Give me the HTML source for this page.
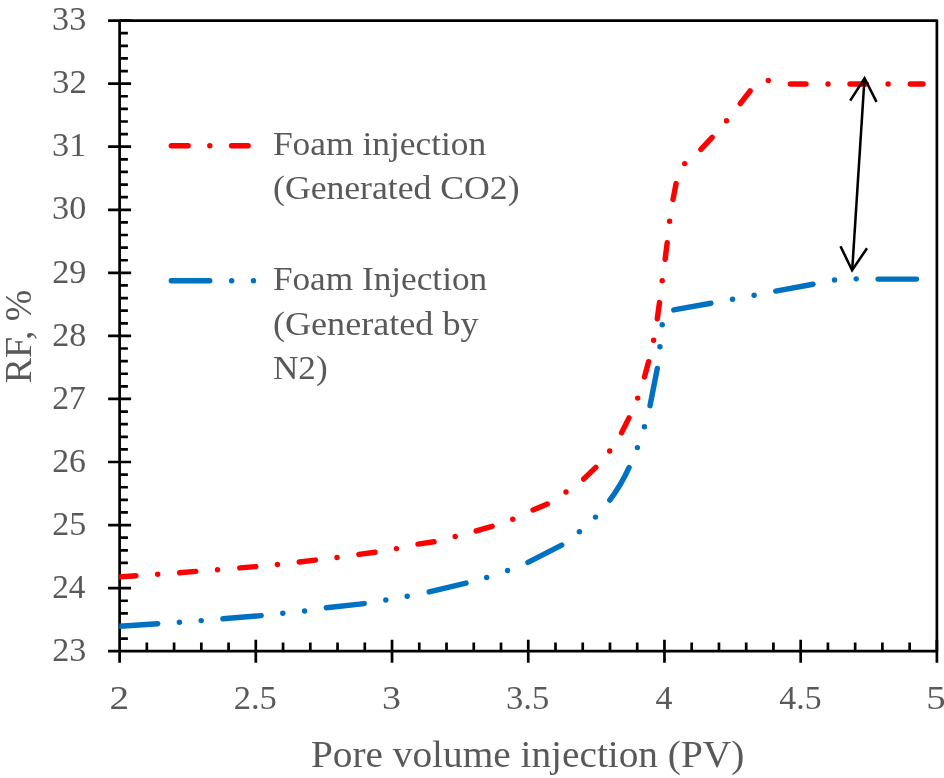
<!DOCTYPE html>
<html><head><meta charset="utf-8"><style>
html,body{margin:0;padding:0;background:#fff;}
svg{display:block;will-change:transform;}
text{font-family:"Liberation Serif",serif;fill:#595959;}
</style></head><body>
<svg width="944" height="778" viewBox="0 0 944 778">
<rect width="944" height="778" fill="#fff"/>
<g><text transform="translate(52.19 660.9) scale(0.9837 1)" font-size="34.6">23</text><text transform="translate(52.22 597.84) scale(0.9604 1)" font-size="34.6">24</text><text transform="translate(52.19 534.78) scale(0.9837 1)" font-size="34.6">25</text><text transform="translate(52.2 471.72) scale(0.9748 1)" font-size="34.6">26</text><text transform="translate(52.21 408.66) scale(0.9719 1)" font-size="34.6">27</text><text transform="translate(52.19 345.6) scale(0.9837 1)" font-size="34.6">28</text><text transform="translate(52.18 282.54) scale(0.9867 1)" font-size="34.6">29</text><text transform="translate(52.09 219.48) scale(0.9867 1)" font-size="34.6">30</text><text transform="translate(52.08 156.42) scale(0.9886 1)" font-size="34.6">31</text><text transform="translate(52.06 93.36) scale(1.0050 1)" font-size="34.6">32</text><text transform="translate(52.09 30.3) scale(0.9867 1)" font-size="34.6">33</text><text transform="translate(109.51 709.3) scale(1.1344 1)" font-size="34.6">2</text><text transform="translate(233.63 709.3) scale(0.9983 1)" font-size="34.6">2.5</text><text transform="translate(381.89 709.3) scale(1.0963 1)" font-size="34.6">3</text><text transform="translate(505.96 709.3) scale(1.0007 1)" font-size="34.6">3.5</text><text transform="translate(655.45 709.3) scale(0.9782 1)" font-size="34.6">4</text><text transform="translate(779.37 709.3) scale(0.9774 1)" font-size="34.6">4.5</text><text transform="translate(926.27 709.3) scale(1.1266 1)" font-size="34.6">5</text></g>
<g><text transform="translate(272.92 154.8) scale(1.0231 1)" font-size="34.6">Foam injection</text><text transform="translate(273.01 199.2) scale(1.0311 1)" font-size="34.6">(Generated CO2)</text><text transform="translate(272.92 290.2) scale(1.0184 1)" font-size="34.6">Foam Injection</text><text transform="translate(273 334.6) scale(1.0435 1)" font-size="34.6">(Generated by</text><text transform="translate(272.92 379) scale(1.0171 1)" font-size="34.6">N2)</text><text transform="translate(310.91 766.9) scale(1.0292 1)" font-size="38.2">Pore volume injection (PV)</text><text transform="translate(31.4 383.15) rotate(-90) scale(0.9880 1)" font-size="38.2">RF, %</text></g>
<clipPath id="pa"><rect x="119.2" y="10.6" width="817.69" height="640.6"/></clipPath>
<path d="M119.6 20.6H936.89V651.2" stroke="#000" stroke-width="2.7" fill="none" stroke-linejoin="round"/><path d="M119.6 19.25V651.2M119.6 651.2H936.89M108.1 651.2H131.1M108.1 588.14H131.1M108.1 525.08H131.1M108.1 462.02H131.1M108.1 398.96H131.1M108.1 335.9H131.1M108.1 272.84H131.1M108.1 209.78H131.1M108.1 146.72H131.1M108.1 83.66H131.1M108.1 20.6H131.1M119.6 638.59H127.9M119.6 625.98H127.9M119.6 613.36H127.9M119.6 600.75H127.9M119.6 575.53H127.9M119.6 562.92H127.9M119.6 550.3H127.9M119.6 537.69H127.9M119.6 512.47H127.9M119.6 499.86H127.9M119.6 487.24H127.9M119.6 474.63H127.9M119.6 449.41H127.9M119.6 436.8H127.9M119.6 424.18H127.9M119.6 411.57H127.9M119.6 386.35H127.9M119.6 373.74H127.9M119.6 361.12H127.9M119.6 348.51H127.9M119.6 323.29H127.9M119.6 310.68H127.9M119.6 298.06H127.9M119.6 285.45H127.9M119.6 260.23H127.9M119.6 247.62H127.9M119.6 235H127.9M119.6 222.39H127.9M119.6 197.17H127.9M119.6 184.56H127.9M119.6 171.94H127.9M119.6 159.33H127.9M119.6 134.11H127.9M119.6 121.5H127.9M119.6 108.88H127.9M119.6 96.27H127.9M119.6 71.05H127.9M119.6 58.44H127.9M119.6 45.82H127.9M119.6 33.21H127.9M119.6 639.7V662.7M255.81 639.7V662.7M392.03 639.7V662.7M528.25 639.7V662.7M664.46 639.7V662.7M800.68 639.7V662.7M936.89 639.7V662.7M146.84 651.2V642.5M174.09 651.2V642.5M201.33 651.2V642.5M228.57 651.2V642.5M283.06 651.2V642.5M310.3 651.2V642.5M337.54 651.2V642.5M364.79 651.2V642.5M419.27 651.2V642.5M446.52 651.2V642.5M473.76 651.2V642.5M501 651.2V642.5M555.49 651.2V642.5M582.73 651.2V642.5M609.97 651.2V642.5M637.22 651.2V642.5M691.7 651.2V642.5M718.95 651.2V642.5M746.19 651.2V642.5M773.43 651.2V642.5M827.92 651.2V642.5M855.16 651.2V642.5M882.4 651.2V642.5M909.65 651.2V642.5" stroke="#000" stroke-width="2.7" fill="none" stroke-linecap="butt"/>
<g clip-path="url(#pa)"><path d="M119.6 576.9L136 575.7M157.7 574.2L157.71 574.2M179.6 572.7L195.9 571.4M217.5 569.8L217.51 569.8M239.7 567.9L255.8 566.6M277.4 564.4L277.41 564.4M299.2 562L315.4 560.1M337 557.4L337.01 557.4M358.9 554.4L375 552.2M396.4 548.6L396.41 548.6M418 544.1L434.1 541.8M455.2 536.5L455.21 536.5M476.2 530.9L492.1 526.3M512.8 519.3L512.81 519.3M533.1 509.9L547.3 504M566 491.9L566.01 491.9M583.7 479L595.8 467.4M609.7 450.9L609.71 450.9M621.6 432.7L629 417.9M637.7 398.1L637.71 398.1M644.5 376.9L648.6 361.7M653.6 340.2L653.61 340.2M657.3 318.7L659.5 302.6M662.2 280.8L662.21 280.8M665.1 259.3L667.2 242.8M669.6 221.3L669.61 221.3M673 199.4L676.1 183.6M684.7 163.6L684.71 163.6M700.9 149.3L712.1 137.3M726.5 120.8L726.51 120.8M740.3 103.7L750.1 91M768.3 80.4L768.31 80.4M790.4 84L806 84M828 84L828.01 84M850 84L866.2 84M888.1 84L888.11 84M910.3 84L923 84" stroke="#FF0000" stroke-width="5.45" stroke-linecap="round" fill="none"/><path d="M119.6 626.2L157.8 623.7M179.4 622.2L179.41 622.2M201.2 620.6L201.21 620.6M222.9 618.8L261.15 615.6M282.8 613.3L282.81 613.3M304.6 611L304.61 611M326.3 607.8L364.2 603.6M385.8 599.9L385.81 599.9M407.2 596.2L407.21 596.2M429.2 591.9L466 583.1M486.7 577.4L486.71 577.4M507.6 570.4L507.61 570.4M528 562.4L561.7 545.1M579.4 531.8L579.41 531.8M595.5 517.1L595.51 517.1M609.8 500.1Q621.2 484.9 629 467.6M637.4 447.6L637.41 447.6M644.4 426.8L644.41 426.8M650 405.7L657.3 368.4M659.9 346.8L659.91 346.8M662.2 324.8L662.21 324.8M673.8 309.9L710.9 303.3M732.5 299.3L732.51 299.3M754.1 295.3L754.11 295.3M775.8 291.1L813 284.2M834.5 280L834.51 280M856.2 278.85L856.21 278.85M878.1 279.1L916.4 279.1" stroke="#0070C0" stroke-width="5.45" stroke-linecap="round" fill="none"/></g>
<path d="M171.35 145.7L188.15 145.7M209.8 145.7L209.81 145.7M231.55 145.7L248.15 145.7" stroke="#FF0000" stroke-width="5.45" stroke-linecap="round" fill="none"/><path d="M171.35 280.7L209.75 280.7M231.7 280.7L231.71 280.7M253.45 280.7L253.46 280.7" stroke="#0070C0" stroke-width="5.45" stroke-linecap="round" fill="none"/>
<g stroke="#000" stroke-width="2.55" fill="none" stroke-linecap="butt" stroke-linejoin="miter">
<path d="M864.5 78.5L852.2 270"/>
<path d="M850.2 100.6L864.6 78.2L876.5 101.9"/>
<path d="M840.5 246.3L852.1 270.3L867 248.2"/>
</g>
</svg>
</body></html>
